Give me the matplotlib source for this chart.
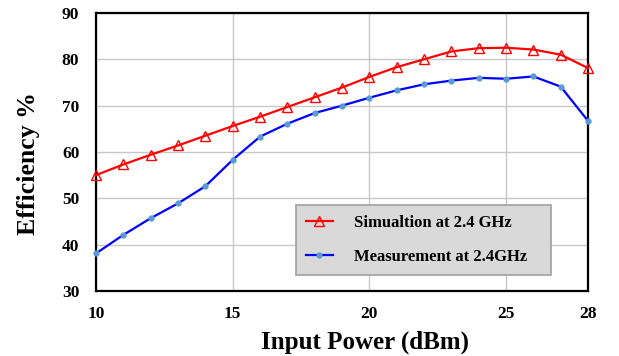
import matplotlib.pyplot as plt

# input power sweep (dBm)
power = [10, 11, 12, 13, 14, 15, 16, 17, 18, 19, 20, 21, 22, 23, 24, 25, 26, 27, 28]

# efficiency values
simulation = [55.0, 57.3, 59.4, 61.4, 63.5, 65.6, 67.6, 69.7, 71.8, 73.9,
              76.2, 78.3, 80.0, 81.7, 82.4, 82.5, 82.1, 81.0, 78.1]
measurement = [38.1, 42.1, 45.7, 48.9, 52.6, 58.3, 63.3, 66.1, 68.4, 70.0,
               71.7, 73.3, 74.6, 75.4, 76.0, 75.8, 76.3, 74.1, 66.7]

xticks = [10, 15, 20, 25, 28]
yticks = [30, 40, 50, 60, 70, 80, 90]

plt.rcParams['font.family'] = 'Liberation Serif'
plt.rcParams['font.weight'] = 'bold'

fig = plt.figure(figsize=(6.19, 3.56), dpi=100)
ax = fig.add_axes([0.155, 0.1826, 0.795, 0.781])

ax.plot(power, simulation, color='#ff0000', lw=1.6, marker='^', ms=7,
        mfc='none', mec='#ff0000', mew=1.0, label='Simualtion at 2.4 GHz',
        clip_on=False, zorder=3)
ax.plot(power, measurement, color='#0000ff', lw=1.6, marker='o', ms=3.5,
        mfc='#5b9bd5', mec='#5b9bd5', label='Measurement at 2.4GHz',
        clip_on=False, zorder=3)

ax.set_xlim(10, 28)
ax.set_ylim(30, 90)
ax.set_xticks(xticks)
ax.set_yticks(yticks)
ax.tick_params(length=0, labelsize=12.5)
ax.tick_params(axis='y', pad=12)
ax.tick_params(axis='x', pad=11)
for lab in ax.get_xticklabels() + ax.get_yticklabels():
    lab.set_fontweight('bold')

ax.grid(True, color='#c8c8c8', lw=1.0)
for s in ax.spines.values():
    s.set_linewidth(1.6)
    s.set_color('black')

ax.set_xlabel('Input Power (dBm)', fontsize=18, fontweight='bold', labelpad=6)
ax.set_ylabel('Efficiency %', fontsize=18.5, fontweight='bold', labelpad=16)
ax.xaxis.label.set_x(0.547)
ax.yaxis.label.set_y(0.457)

leg = ax.legend(loc='lower left', bbox_to_anchor=(0.4065, 0.0576, 0.5185, 0.255),
                mode='expand', borderaxespad=0, fancybox=False, framealpha=1,
                facecolor='#d9d9d9', edgecolor='#a0a0a0',
                prop={'weight': 'bold', 'size': 12},
                handlelength=1.6, handletextpad=1.3, labelspacing=1.1,
                borderpad=0.6)
leg.get_frame().set_linewidth(1.2)

fig.savefig('out.png', dpi=100)
